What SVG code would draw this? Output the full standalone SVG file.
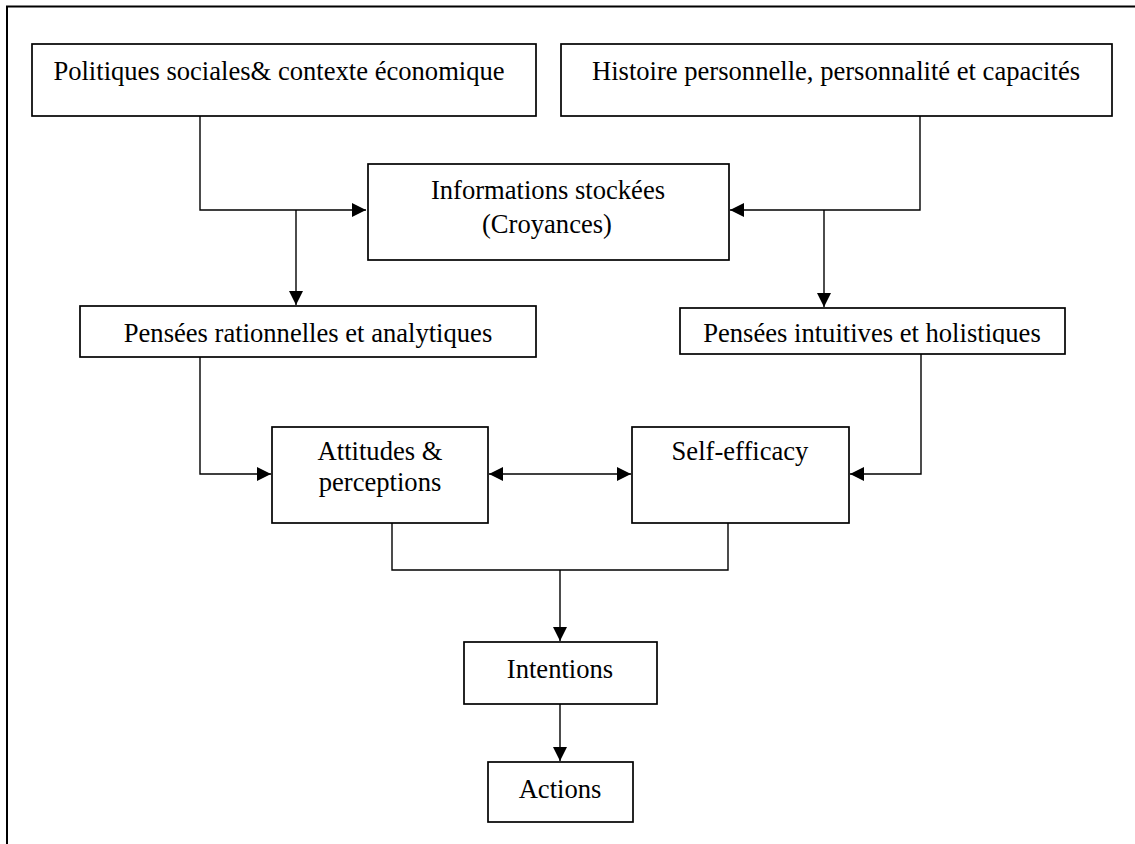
<svg xmlns="http://www.w3.org/2000/svg" width="1135" height="844" viewBox="0 0 1135 844">
<style>
.box{fill:#fff;stroke:#000;stroke-width:1.7}
.lbl{font-family:"Liberation Serif","Times New Roman",serif;font-size:26.6px;fill:#000;text-anchor:middle}
.con{fill:none;stroke:#000;stroke-width:1.4}
.frame{fill:none;stroke:#000;stroke-width:2}
</style>
<defs>
<marker id="ah" markerUnits="userSpaceOnUse" markerWidth="15" markerHeight="14" refX="14" refY="7" orient="auto-start-reverse">
<path d="M0,0 L14,7 L0,14 z" fill="#000"/>
</marker>
<clipPath id="clipInt"><rect x="680" y="308" width="385" height="36"/></clipPath>
</defs>
<rect width="1135" height="844" fill="#fff"/>
<path class="frame" d="M7,844 V6.5 H1135"/>
<g id="connectors">
<path class="con" d="M200,116 V210 H366" marker-end="url(#ah)"/>
<path class="con" d="M296,210 V305" marker-end="url(#ah)"/>
<path class="con" d="M920,116 V210 H730" marker-end="url(#ah)"/>
<path class="con" d="M824,210 V307" marker-end="url(#ah)"/>
<path class="con" d="M200,357 V474 H271" marker-end="url(#ah)"/>
<path class="con" d="M921,354 V474 H850" marker-end="url(#ah)"/>
<path class="con" d="M489,474 H631" marker-start="url(#ah)" marker-end="url(#ah)"/>
<path class="con" d="M392,523 V570 H728 V523"/>
<path class="con" d="M560,570 V641" marker-end="url(#ah)"/>
<path class="con" d="M560,704 V761" marker-end="url(#ah)"/>
</g>
<g id="n-politiques">
<rect class="box" x="32" y="44" width="504" height="72"/>
<text class="lbl" x="279" y="80">Politiques sociales&amp; contexte économique</text>
</g>
<g id="n-histoire">
<rect class="box" x="561" y="44" width="551" height="72"/>
<text class="lbl" x="836" y="80">Histoire personnelle, personnalité et capacités</text>
</g>
<g id="n-informations">
<rect class="box" x="368" y="164" width="361" height="96"/>
<text class="lbl" x="548" y="199">Informations stockées</text>
<text class="lbl" x="547" y="233">(Croyances)</text>
</g>
<g id="n-rationnelles">
<rect class="box" x="80" y="306" width="456" height="51"/>
<text class="lbl" x="308" y="342">Pensées rationnelles et analytiques</text>
</g>
<g id="n-intuitives">
<rect class="box" x="680" y="308" width="385" height="46"/>
<text class="lbl" x="872" y="342" clip-path="url(#clipInt)">Pensées intuitives et holistiques</text>
</g>
<g id="n-attitudes">
<rect class="box" x="272" y="427" width="216" height="96"/>
<text class="lbl" x="380" y="460">Attitudes &amp;</text>
<text class="lbl" x="380" y="491">perceptions</text>
</g>
<g id="n-selfefficacy">
<rect class="box" x="632" y="427" width="217" height="96"/>
<text class="lbl" x="740" y="460">Self-efficacy</text>
</g>
<g id="n-intentions">
<rect class="box" x="464" y="642" width="193" height="62"/>
<text class="lbl" x="560" y="678">Intentions</text>
</g>
<g id="n-actions">
<rect class="box" x="488" y="762" width="145" height="60"/>
<text class="lbl" x="560" y="798">Actions</text>
</g>
</svg>
